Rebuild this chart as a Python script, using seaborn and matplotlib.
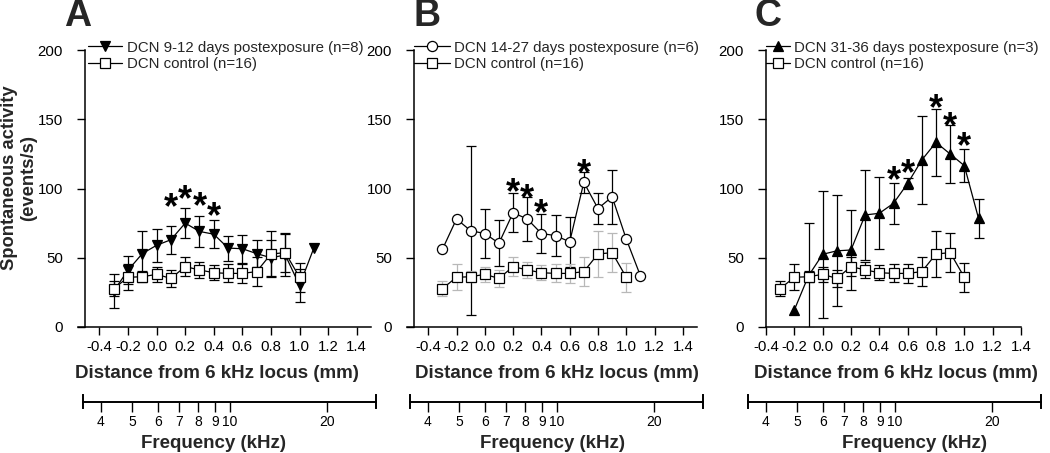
import numpy as np
import pandas as pd
import matplotlib
matplotlib.use("Agg")
import matplotlib.pyplot as plt
import seaborn as sns
from matplotlib.lines import Line2D

# ---------------- data ----------------
dist_ticks = [-0.4, -0.2, 0.0, 0.2, 0.4, 0.6, 0.8, 1.0, 1.2, 1.4]
dist_labels = ["-0.4", "-0.2", "0.0", "0.2", "0.4", "0.6", "0.8", "1.0", "1.2", "1.4"]
freq_ticks = [4, 5, 6, 7, 8, 9, 10, 20]
freq_labels = ["4", "5", "6", "7", "8", "9", "10", "20"]
y_ticks = [0, 50, 100, 150, 200]

ctrl_x = [-0.3, -0.2, -0.1, 0.0, 0.1, 0.2, 0.3, 0.4, 0.5, 0.6, 0.7, 0.8, 0.9, 1.0]
ctrl_mean = [27.7, 35.9, 36.3, 38.0, 35.1, 43.6, 41.2, 39.2, 38.7, 38.7, 40.0, 52.7, 53.7, 35.9]
ctrl_err = [5.3, 9.4, 4.0, 5.5, 6.0, 7.0, 6.0, 5.5, 6.5, 7.0, 10.5, 16.6, 14.3, 10.5]

a_x = [-0.3, -0.2, -0.1, 0.0, 0.1, 0.2, 0.3, 0.4, 0.5, 0.6, 0.7, 0.8, 0.9, 1.0, 1.1]
a_mean = [26, 41, 53, 59, 63, 75, 69, 67, 57, 56.5, 53, 50, 52, 30, 57]
a_err = [12, 10, 16, 12, 10, 11, 11, 10, 9, 10, 10, 13, 15, 12, np.nan]
a_star_x = [0.1, 0.2, 0.3, 0.4]
a_star_y = [93, 99, 94, 87]

b_x = [-0.3, -0.2, -0.1, 0.0, 0.1, 0.2, 0.3, 0.4, 0.5, 0.6, 0.7, 0.8, 0.9, 1.0, 1.1]
b_mean = [56, 78, 69.5, 67.5, 60.5, 82.5, 78, 67.5, 66, 61.5, 104.5, 85.5, 94, 63.5, 37]
b_err = [np.nan, np.nan, 61, 17.5, 16.5, 14, 15.7, 14, 15, 18, 7.5, 11, 19.5, np.nan, np.nan]
b_star_x = [0.2, 0.3, 0.4, 0.7]
b_star_y = [104, 100, 89, 118]

c_x = [-0.2, -0.1, 0.0, 0.1, 0.2, 0.3, 0.4, 0.5, 0.6, 0.7, 0.8, 0.9, 1.0, 1.1]
c_mean = [12.3, 37, 52.5, 55, 55.6, 80.9, 82.1, 89.3, 103.7, 120.6, 133.3, 124.9, 116.5, 78.5]
c_err = [np.nan, 38, 46, 40, 29, 32.7, 26, 15, 4.2, 31.5, 24, 21, 12, 14]
c_star_x = [0.5, 0.6, 0.8, 0.9, 1.0]
c_star_y = [112.6, 117.7, 164.4, 151.9, 137.4]

labels_treat = ["DCN 9-12 days postexposure (n=8)",
                "DCN 14-27 days postexposure (n=6)",
                "DCN 31-36 days postexposure (n=3)"]
label_ctrl = "DCN control (n=16)"
panel_letters = ["A", "B", "C"]
xlabel = "Distance from 6 kHz locus (mm)"
flabel = "Frequency (kHz)"
ylabel = "Spontaneous activity\n(events/s)"

# ---------------- style ----------------
sns.set_style("ticks")
plt.rcParams["font.family"] = ["Liberation Sans", "DejaVu Sans"]
plt.rcParams["axes.unicode_minus"] = False

W, H = 1050, 453
fig = plt.figure(figsize=(W / 100, H / 100), dpi=100, facecolor="white")


def fr(l, t, w, h):
    return [l / W, 1 - (t + h) / H, w / W, h / H]


panels = [
    dict(rect=(78, 50, 293, 277), xlim=(-0.55, 1.5), spine=-0.5,
         x=a_x, m=a_mean, e=a_err, marker="v", mfc="black",
         sx=a_star_x, sy=a_star_y, lab=labels_treat[0],
         leg_x=88, hl=2.27, tp=0.33, ctrl_ecolor="black",
         freq_left=83, xl_c=216.5, fl_c=213.5, letter_x=78),
    dict(rect=(407, 50, 290, 277), xlim=(-0.55, 1.5), spine=-0.5,
         x=b_x, m=b_mean, e=b_err, marker="o", mfc="white",
         sx=b_star_x, sy=b_star_y, lab=labels_treat[1],
         leg_x=414, hl=2.4, tp=0.25, ctrl_ecolor="#b8b8b8",
         freq_left=410, xl_c=557, fl_c=552, letter_x=427),
    dict(rect=(766, 50, 255, 277), xlim=(-0.4, 1.4), spine=-0.4,
         x=c_x, m=c_mean, e=c_err, marker="^", mfc="black",
         sx=c_star_x, sy=c_star_y, lab=labels_treat[2],
         leg_x=766, hl=1.6, tp=0.25, ctrl_ecolor="black",
         freq_left=748, xl_c=896, fl_c=915, letter_x=768),
]

MS = 7.3
LW = 0.9
STAR_FS = 26
LABEL_FS = 13.5

for i, p in enumerate(panels):
    l, t, w, h = p["rect"]
    ax = fig.add_axes(fr(l, t, w, h))
    ax.patch.set_alpha(0)

    # treatment
    ax.errorbar(p["x"], p["m"], yerr=p["e"], fmt="none", ecolor="black",
                elinewidth=LW, capsize=3.6, capthick=LW, zorder=2)
    sns.lineplot(x=p["x"], y=p["m"], ax=ax, color="black", linewidth=LW,
                 marker=p["marker"], markersize=MS, markerfacecolor=p["mfc"],
                 markeredgecolor="black", markeredgewidth=0.9, zorder=3)
    # control
    ax.errorbar(ctrl_x, ctrl_mean, yerr=ctrl_err, fmt="none", ecolor=p["ctrl_ecolor"],
                elinewidth=LW, capsize=3.6, capthick=LW, zorder=4)
    sns.lineplot(x=ctrl_x, y=ctrl_mean, ax=ax, color="black", linewidth=LW,
                 marker="s", markersize=MS, markerfacecolor="white",
                 markeredgecolor="black", markeredgewidth=0.9, zorder=5)

    for sx, sy in zip(p["sx"], p["sy"]):
        ax.annotate("*", xy=(sx, sy), xytext=(0, -0.56 * STAR_FS),
                    textcoords="offset points", ha="center", va="baseline",
                    fontsize=STAR_FS, fontweight="bold", color="black", zorder=6)

    ax.set_xlim(*p["xlim"])
    ax.set_ylim(0, 200)
    ax.set_xticks(dist_ticks)
    ax.set_xticklabels(dist_labels)
    ax.set_yticks(y_ticks)
    ax.set_yticklabels([str(v) for v in y_ticks])
    ax.set_xlabel("")
    ax.set_ylabel("")
    for s in ["top", "right"]:
        ax.spines[s].set_visible(False)
    ax.spines["left"].set_position(("data", p["spine"]))
    for s in ["left", "bottom"]:
        ax.spines[s].set_linewidth(1.1)
        ax.spines[s].set_color("black")
    ax.tick_params(axis="both", direction="out", length=6, width=1.0,
                   labelsize=10.8, colors="black")
    ax.tick_params(axis="y", pad=10)
    ax.tick_params(axis="x", pad=3.5)

    handles = [
        Line2D([], [], color="black", lw=LW, marker=p["marker"], ms=MS,
               mfc=p["mfc"], mec="black", mew=0.9),
        Line2D([], [], color="black", lw=LW, marker="s", ms=MS,
               mfc="white", mec="black", mew=0.9),
    ]
    bx = (p["leg_x"] - l) / w
    ax.legend(handles, [p["lab"], label_ctrl], loc="upper left",
              bbox_to_anchor=(bx, 1.034), frameon=False, fontsize=10.8,
              handlelength=p["hl"], handletextpad=p["tp"], labelspacing=0.15,
              borderpad=0, borderaxespad=0, numpoints=1)

    # frequency axis
    fa = fig.add_axes(fr(p["freq_left"], 395.2, 293, 13))
    fa.patch.set_alpha(0)
    fa.set_xscale("log")
    fa.set_xlim(3.52, 28.4)
    fa.set_ylim(0, 1)
    fa.spines["top"].set_visible(False)
    fa.spines["bottom"].set_position(("axes", 0.5))
    for s in ["left", "right", "bottom"]:
        fa.spines[s].set_linewidth(1.4)
        fa.spines[s].set_color("black")
    fa.set_yticks([])
    fa.set_xticks(freq_ticks)
    fa.set_xticklabels(freq_labels)
    fa.set_xticks([], minor=True)
    fa.tick_params(axis="x", direction="out", length=7, width=1.0,
                   labelsize=10, pad=2.5, colors="black")

    fig.text(p["xl_c"] / W, 1 - 373 / H, xlabel, ha="center", va="center",
             fontsize=LABEL_FS, fontweight="bold")
    fig.text(p["fl_c"] / W, 1 - 443 / H, flabel, ha="center", va="center",
             fontsize=LABEL_FS, fontweight="bold")
    fig.text(p["letter_x"] / W, 1 - 16 / H, panel_letters[i], ha="center",
             va="center", fontsize=27, fontweight="bold")

fig.text(19 / W, 1 - 178 / H, ylabel, rotation=90, ha="center", va="center",
         multialignment="center", fontsize=13.2, fontweight="bold", linespacing=1.2)

fig.savefig("out.png", dpi=100, facecolor="white")
